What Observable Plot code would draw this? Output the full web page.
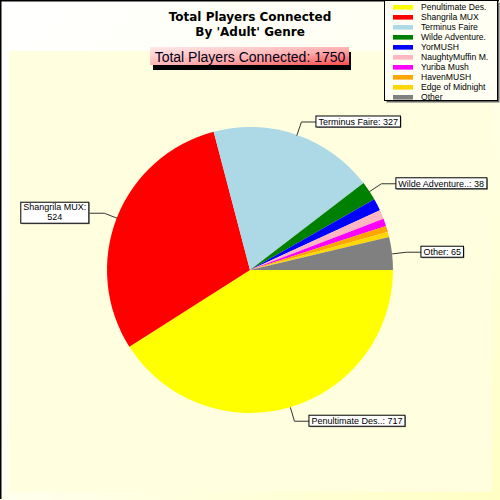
<!DOCTYPE html>
<html>
<head>
<meta charset="utf-8">
<script src="https://cdn.jsdelivr.net/npm/d3@7"></script>
<script src="https://cdn.jsdelivr.net/npm/@observablehq/plot@0.6"></script>
<style>
  html, body { margin: 0; padding: 0; background: #ffffff; }
  #chart svg { display: block; }
</style>
</head>
<body>
<div id="chart"></div>
<script>
// ---- data ----
const names = ["Penultimate Des.", "Shangrila MUX", "Terminus Faire", "Wilde Adventure.", "YorMUSH",
               "NaughtyMuffin M.", "Yuriba Mush", "HavenMUSH", "Edge of Midnight", "Other"];
const values = [717, 524, 327, 38, 24, 18, 15, 12, 10, 65];
const colors = ["#ffff00", "#ff0000", "#add8e6", "#008000", "#0000ff",
                "#ffb6c1", "#ff00ff", "#ffa500", "#ffd700", "#808080"];
const sliceLabelNames = ["Penultimate Des..", "Shangrila MUX", "Terminus Faire", "Wilde Adventure..", "",
                         "", "", "", "", "Other"];
const labelWrap = [false, true, false, false, false, false, false, false, false, false];
const titleLines = ["Total Players Connected", "By 'Adult' Genre"];
const totalLabel = "Total Players Connected";
const total = 1750;

// ---- derived ----
const data = names.map((name, i) => ({name, value: values[i], color: colors[i], label: sliceLabelNames[i], wrap: labelWrap[i]}));
const arcs = d3.pie().sort(null).value(d => d.value)
  .startAngle(Math.PI / 2).endAngle(Math.PI / 2 + 2 * Math.PI)(data);

const R_PX = 143;
const elbowK = 1 + 14 / R_PX;
const horiz = 15 / R_PX;
const leaders = [];
const labelPts = [];
arcs.forEach(a => {
  if (!a.data.label) return;
  const m = (a.startAngle + a.endAngle) / 2;
  const s = Math.sin(m), c = Math.cos(m);
  const side = s >= 0 ? 1 : -1;
  const ex = s * elbowK, ey = c * elbowK;
  leaders.push({name: a.data.name, x: s, y: c});
  leaders.push({name: a.data.name, x: ex, y: ey});
  leaders.push({name: a.data.name, x: ex + side * horiz, y: ey});
  labelPts.push({name: a.data.name, x: ex + side * horiz, y: ey, side,
                 text: a.data.wrap ? [a.data.label + ":", String(a.data.value)] : [a.data.label + ": " + a.data.value]});
});

const canvas = document.createElement("canvas");
const ctx2 = canvas.getContext("2d");
function textWidth(t, font) { ctx2.font = font; return ctx2.measureText(t).width; }

function colorOf(scales, name) {
  return scales.color ? scales.color(name) : colors[names.indexOf(name)];
}

// ---- marks ----
const backgroundMark = () => {
  const g = d3.create("svg:g");
  g.append("rect").attr("x", 9).attr("y", 51).attr("width", 483).attr("height", 441).attr("fill", "#ffffe0");
  g.append("path").attr("d", "M0.75,499V0.75H499").attr("fill", "none").attr("stroke", "#000").attr("stroke-width", 1.5);
  return g.node();
};

const sliceMark = (index, scales) => {
  const cx = scales.x(0), cy = scales.y(0);
  const r = scales.x(1) - scales.x(0);
  const arc = d3.arc().innerRadius(0).outerRadius(r);
  const g = d3.create("svg:g").attr("transform", `translate(${cx},${cy})`);
  g.selectAll("path").data(arcs).join("path")
    .attr("d", arc)
    .attr("fill", d => colorOf(scales, d.data.name))
    .attr("stroke", "none");
  return g.node();
};

const labelMark = (index, scales) => {
  const g = d3.create("svg:g");
  const font = "9px 'Liberation Sans'";
  labelPts.forEach(p => {
    const px = scales.x(p.x), py = scales.y(p.y);
    const w = d3.max(p.text, t => textWidth(t, font)) + 5;
    const h = p.text.length === 1 ? 11 : 21;
    const x0 = p.side > 0 ? px : px - w;
    const y0 = py - h / 2;
    g.append("rect").attr("x", x0 + 1).attr("y", y0 + 1).attr("width", w).attr("height", h).attr("fill", "#999");
    g.append("rect").attr("x", x0).attr("y", y0).attr("width", w).attr("height", h)
      .attr("fill", "#fff").attr("stroke", "#000").attr("stroke-width", 1);
    p.text.forEach((t, k) => {
      const ty = p.text.length === 1 ? py + 3.3 : py - 2.5 + k * 10;
      g.append("text").attr("x", p.text.length === 1 ? x0 + 2.5 : x0 + w / 2)
        .attr("y", ty).attr("text-anchor", p.text.length === 1 ? "start" : "middle")
        .attr("font-family", "'Liberation Sans', Arial, sans-serif").attr("font-size", 9)
        .attr("fill", "#000").text(t);
    });
  });
  return g.node();
};

const legendMark = (index, scales) => {
  const g = d3.create("svg:g");
  g.append("rect").attr("x", 386.5).attr("y", 2.5).attr("width", 113).attr("height", 100).attr("fill", "#666");
  g.append("rect").attr("x", 384.5).attr("y", 0.5).attr("width", 113).attr("height", 100)
    .attr("fill", "#fffff4").attr("stroke", "#000").attr("stroke-width", 1);
  names.forEach((n, i) => {
    const yc = 7.3 + i * 10;
    g.append("rect").attr("x", 393).attr("y", yc - 2.3).attr("width", 20).attr("height", 4.6)
      .attr("fill", colorOf(scales, n));
    g.append("text").attr("x", 421).attr("y", yc + 3.1).attr("text-anchor", "start")
      .attr("font-family", "'Liberation Sans', Arial, sans-serif").attr("font-size", 8.6)
      .attr("fill", "#000").text(n);
  });
  return g.node();
};

const titleMark = () => {
  const g = d3.create("svg:g");
  titleLines.forEach((t, i) => {
    g.append("text").attr("x", 250).attr("y", 21 + i * 14.5).attr("text-anchor", "middle")
      .attr("font-family", "'DejaVu Sans', sans-serif").attr("font-weight", "bold").attr("font-size", 12)
      .attr("fill", "#000").text(t);
  });
  const defs = g.append("defs");
  const lg = defs.append("linearGradient").attr("id", "subGrad")
    .attr("x1", "0").attr("y1", "0").attr("x2", "1").attr("y2", "1");
  lg.append("stop").attr("offset", "0%").attr("stop-color", "#ffeaea");
  lg.append("stop").attr("offset", "55%").attr("stop-color", "#ffb0b0");
  lg.append("stop").attr("offset", "100%").attr("stop-color", "#ff4c4c");
  g.append("rect").attr("x", 153).attr("y", 52).attr("width", 198).attr("height", 18).attr("fill", "#000");
  g.append("rect").attr("x", 150).attr("y", 47).attr("width", 199).attr("height", 18).attr("fill", "url(#subGrad)");
  g.append("text").attr("x", 250).attr("y", 61.5).attr("text-anchor", "middle")
    .attr("font-family", "'Liberation Sans', Arial, sans-serif").attr("font-size", 14)
    .attr("fill", "#000018").text(`${totalLabel}: ${total}`);
  return g.node();
};

const plot = Plot.plot({
  width: 500,
  height: 500,
  margin: 0,
  x: {domain: [-1, 1], range: [107, 393], axis: null},
  y: {domain: [-1, 1], range: [413, 127], axis: null},
  color: {domain: names, range: colors},
  style: {background: "linear-gradient(135deg, #ffffff 0%, #fffff2 45%, #ffffc4 100%)", overflow: "visible"},
  marks: [
    backgroundMark,
    sliceMark,
    Plot.dot(leaders, {x: "x", y: "y", fill: "name", r: 0}),
    Plot.line(leaders, {x: "x", y: "y", z: "name", stroke: "#333", strokeWidth: 1}),
    labelMark,
    titleMark,
    legendMark
  ]
});
document.getElementById("chart").appendChild(plot);
</script>
</body>
</html>
